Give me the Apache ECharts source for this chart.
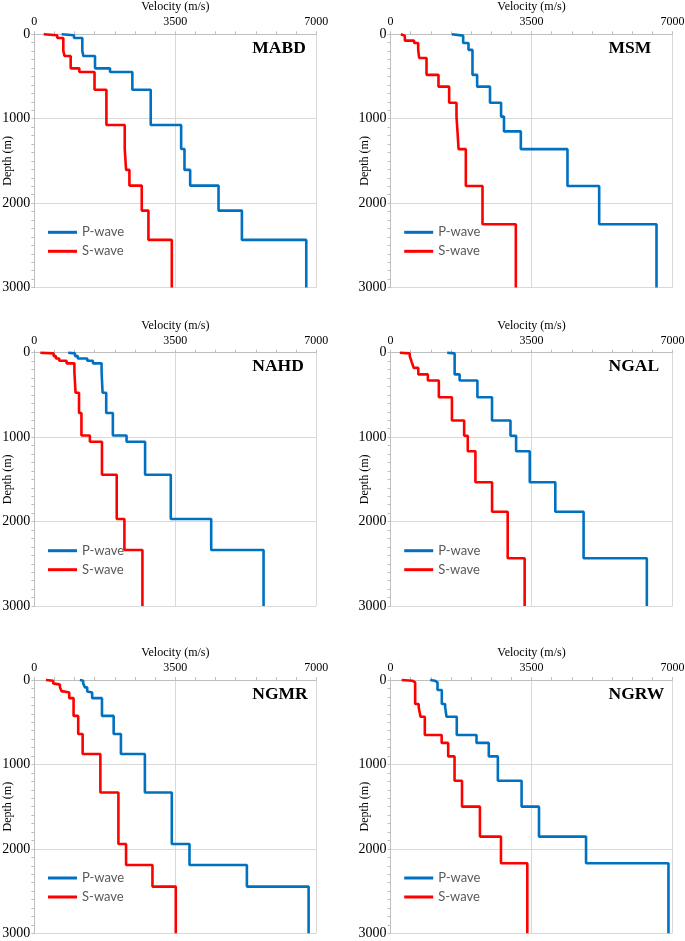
<!DOCTYPE html>
<html><head><meta charset="utf-8">
<script src="https://cdn.jsdelivr.net/npm/echarts@6/dist/echarts.min.js"></script>
<style>html,body{margin:0;padding:0;background:#fff}#c{width:685px;height:941px}</style>
</head><body><div id="c"></div>
<script>
// ---- data ----
const STATIONS = ['MABD', 'MSM', 'NAHD', 'NGAL', 'NGMR', 'NGRW'];
const SERIES_NAMES = ['P-wave', 'S-wave'];
const VEL_TICKS = [0, 3500, 7000];
const DEPTH_TICKS = [0, 1000, 2000, 3000];

const MABD_DEPTH = [0, 12, 43, 194, 257, 403, 446, 656, 1075, 1358, 1606, 1792, 2088, 2435, 3000];
const MABD_VP = [679, 985, 1192, 1217, 1507, 1880, 2434, 2890, 3645, 3728, 3869, 4573, 5153, 6751];
const MABD_VS = [235, 571, 720, 750, 903, 1118, 1495, 1790, 2245, 2278, 2361, 2667, 2833, 3413];

const MSM_DEPTH = [0, 16, 75, 103, 185, 280, 480, 620, 810, 975, 1150, 1360, 1796, 2250, 3000];
const MSM_VP = [1520, 1804, 1804, 1936, 2035, 2035, 2151, 2470, 2745, 2817, 3235, 4393, 5180, 6603];
const MSM_VS = [256, 356, 587, 687, 712, 894, 1191, 1456, 1638, 1663, 1690, 1870, 2284, 3111];

const NAHD_DEPTH = [0, 8, 40, 69, 95, 126, 225, 474, 715, 980, 1055, 1445, 1970, 2337, 3000];
const NAHD_VP = [842, 1010, 1080, 1315, 1455, 1670, 1695, 1785, 1950, 2290, 2750, 3388, 4391, 5691];
const NAHD_VS = [150, 480, 537, 619, 801, 995, 1024, 1110, 1170, 1380, 1680, 2046, 2237, 2684];

const NGAL_DEPTH = [0, 8, 40, 111, 180, 257, 330, 527, 803, 983, 1168, 1535, 1883, 2435, 3000];
const NGAL_VP = [1408, 1592, 1592, 1592, 1592, 1716, 2157, 2520, 2978, 3118, 3457, 4091, 4793, 6363];
const NGAL_VS = [231, 478, 527, 576, 690, 928, 1200, 1525, 1828, 1918, 2108, 2521, 2909, 3330];

const NGMR_DEPTH = [0, 8, 40, 55, 87, 135, 148, 215, 425, 640, 877, 1333, 1942, 2191, 2447, 3000];
const NGMR_VP = [1131, 1214, 1255, 1255, 1313, 1354, 1436, 1680, 1970, 2150, 2745, 3413, 3852, 5277, 6809];
const NGMR_VS = [290, 470, 470, 636, 680, 745, 867, 975, 1090, 1200, 1640, 2088, 2278, 2933, 3512];

const NGRW_DEPTH = [0, 8, 28, 119, 285, 324, 435, 652, 745, 905, 1194, 1500, 1855, 2171, 3000];
const NGRW_VP = [985, 1100, 1167, 1274, 1357, 1390, 1645, 2135, 2440, 2665, 3254, 3686, 4854, 6900];
const NGRW_VS = [277, 540, 612, 612, 700, 745, 852, 1270, 1432, 1590, 1775, 2220, 2742, 3396];

const PROFILES = {
  MABD: [MABD_DEPTH, MABD_VP, MABD_VS],
  MSM: [MSM_DEPTH, MSM_VP, MSM_VS],
  NAHD: [NAHD_DEPTH, NAHD_VP, NAHD_VS],
  NGAL: [NGAL_DEPTH, NGAL_VP, NGAL_VS],
  NGMR: [NGMR_DEPTH, NGMR_VP, NGMR_VS],
  NGRW: [NGRW_DEPTH, NGRW_VP, NGRW_VS]
};

// ---- layout / style ----
const COL_LEFT = [34.3, 390.5];
const ROW_TOP = [34.3, 352.7, 680];
const PW = 282, PH = 253.3;
const COLORS = ['#0070C0', '#FF0000'];
const SERIF = '"Liberation Serif", "Times New Roman", serif';
const AXIS_GRAY = '#bfbfbf';
const GRID_GRAY = '#d9d9d9';

function steps(depth, vel) {
  const pts = [];
  for (let i = 0; i < vel.length; i++) {
    pts.push([vel[i], depth[i]]);
    pts.push([vel[i], depth[i + 1]]);
  }
  return pts;
}
const plain = v => String(v);

const grid = [], xAxis = [], yAxis = [], series = [], legend = [], graphic = [];
STATIONS.forEach((st, i) => {
  const L = COL_LEFT[i % 2], T = ROW_TOP[Math.floor(i / 2)];
  grid.push({ left: L, top: T, width: PW, height: PH, containLabel: false, outerBoundsMode: 'none' });
  xAxis.push({
    type: 'value', gridIndex: i, position: 'top',
    min: VEL_TICKS[0], max: VEL_TICKS[VEL_TICKS.length - 1], interval: VEL_TICKS[1] - VEL_TICKS[0],
    name: 'Velocity (m/s)', nameLocation: 'middle', nameGap: 21, nameMoveOverlap: false,
    nameTextStyle: { fontFamily: SERIF, fontSize: 12, color: '#000' },
    axisLine: { show: true, onZero: false, lineStyle: { color: AXIS_GRAY, width: 1 } },
    axisTick: { show: true, length: 3, lineStyle: { color: AXIS_GRAY } },
    minorTick: { show: true, splitNumber: 7, length: 3, lineStyle: { color: AXIS_GRAY } },
    splitLine: { show: true, lineStyle: { color: GRID_GRAY, width: 1 } },
    axisLabel: { fontFamily: SERIF, fontSize: 12, color: '#000', margin: 6, formatter: plain }
  });
  yAxis.push({
    type: 'value', gridIndex: i, inverse: true,
    min: DEPTH_TICKS[0], max: DEPTH_TICKS[DEPTH_TICKS.length - 1], interval: DEPTH_TICKS[1] - DEPTH_TICKS[0],
    name: 'Depth (m)', nameLocation: 'middle', nameGap: 20, nameRotate: 90, nameMoveOverlap: false,
    nameTextStyle: { fontFamily: SERIF, fontSize: 12, color: '#000' },
    axisLine: { show: true, onZero: false, lineStyle: { color: AXIS_GRAY, width: 1 } },
    axisTick: { show: true, length: 3, lineStyle: { color: AXIS_GRAY } },
    minorTick: { show: true, splitNumber: 10, length: 3, lineStyle: { color: AXIS_GRAY } },
    splitLine: { show: true, lineStyle: { color: GRID_GRAY, width: 1 } },
    axisLabel: { fontFamily: SERIF, fontSize: 14, color: '#000', margin: 4, formatter: plain }
  });
  const [depth, vp, vs] = PROFILES[st];
  [vp, vs].forEach((v, k) => {
    series.push({
      name: SERIES_NAMES[k], type: 'line', xAxisIndex: i, yAxisIndex: i,
      data: steps(depth, v), symbol: 'none', showSymbol: false,
      lineStyle: { color: COLORS[k], width: 2.6 }, itemStyle: { color: COLORS[k] },
      animation: false, clip: false, z: 3 + (1 - k)
    });
  });
  legend.push({
    orient: 'vertical', left: L + 13.7, top: T + 191, itemWidth: 29, itemHeight: 3, itemGap: 5,
    padding: 0, icon: 'rect', selectedMode: false, data: SERIES_NAMES,
    textStyle: { fontFamily: 'Lato, "Open Sans", sans-serif', fontSize: 13, color: '#595959', lineHeight: 14 }
  });
  graphic.push({
    type: 'text', x: L + 218, y: T + 14,
    style: { text: st, font: 'bold 17.5px ' + SERIF, fill: '#000', align: 'left', verticalAlign: 'middle' }
  });
});

const chart = echarts.init(document.getElementById('c'), null, { renderer: 'canvas' });
chart.setOption({
  backgroundColor: '#fff', animation: false,
  grid, xAxis, yAxis, series, legend, graphic
});
</script></body></html>
